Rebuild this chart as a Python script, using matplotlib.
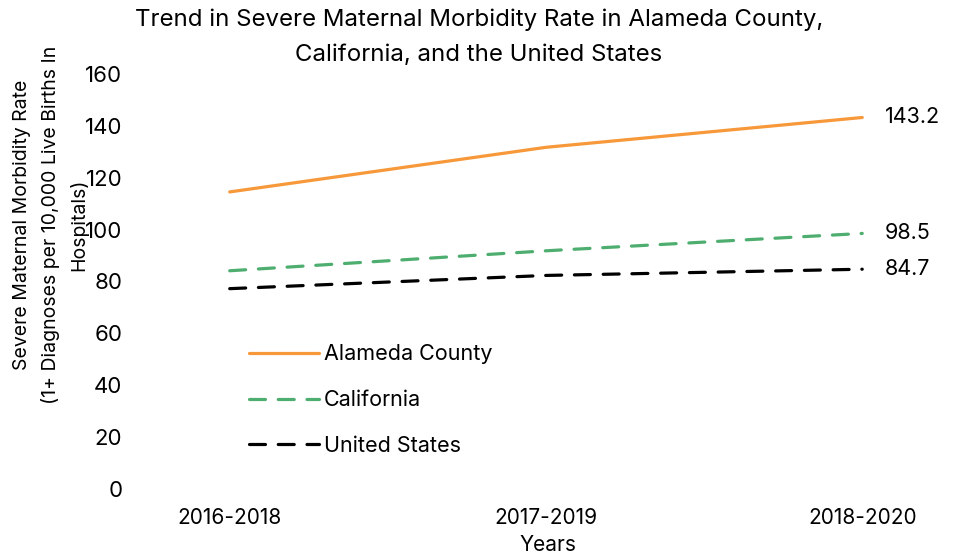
import matplotlib.pyplot as plt

plt.rcParams['font.family'] = ['Inter', 'DejaVu Sans']

periods = ['2016-2018', '2017-2019', '2018-2020']
alameda = [114.5, 131.7, 143.2]
california = [84.1, 91.8, 98.5]
united_states = [77.2, 82.3, 84.7]

fig = plt.figure(figsize=(9.54, 5.6), dpi=100)
ax = fig.add_axes([0.14, 0.127, 0.85, 0.741])

x = range(len(periods))
ax.plot(x, alameda, color='#F7983A', lw=2.3, label='Alameda County', solid_capstyle='round')
ax.plot(x, california, color='#4EAE6F', lw=2.3, dashes=(5, 4), label='California', dash_capstyle='round')
ax.plot(x, united_states, color='black', lw=2.3, dashes=(5, 4), label='United States', dash_capstyle='round')

for vals in (alameda, california, united_states):
    ax.annotate(f'{vals[-1]:.1f}', (2, vals[-1]), xytext=(16, 0), textcoords='offset points',
                ha='left', va='center', fontsize=15.5)

ax.set_xlim(-0.304, 2.26)
ax.set_ylim(0, 160)
ax.set_yticks(range(0, 161, 20))
ax.set_xticks(list(x))
ax.set_xticklabels(periods)
ax.tick_params(axis='y', length=0, labelsize=16, pad=8)
ax.tick_params(axis='x', length=0, labelsize=15, pad=14)
for s in ax.spines.values():
    s.set_visible(False)

ax.legend(loc='upper left', bbox_to_anchor=(0.118, 0.395), frameon=False, fontsize=15.5,
          handlelength=3.25, handletextpad=0.23, labelspacing=1.2)

fig.text(0.502, 0.985, 'Trend in Severe Maternal Morbidity Rate in Alameda County,\nCalifornia, and the United States',
         ha='center', va='top', fontsize=17.3, linespacing=1.75)
fig.text(0.053, 1 - 225 / 560, 'Severe Maternal Morbidity Rate\n(1+ Diagnoses per 10,000 Live Births In\nHospitals)',
         rotation=90, ha='center', va='center', fontsize=14, linespacing=1.62)
fig.text(0.574, 1 - 545 / 560, 'Years', ha='center', va='center', fontsize=15)

fig.savefig('out.png', dpi=100)
